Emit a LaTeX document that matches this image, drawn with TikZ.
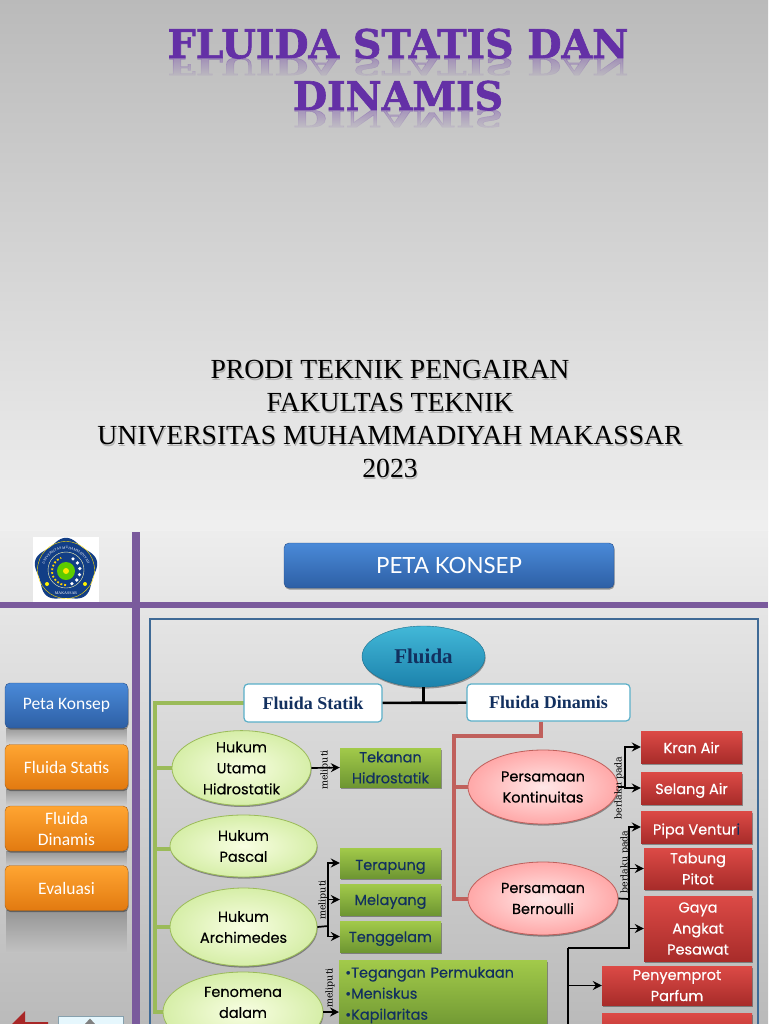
\documentclass[tikz,border=0pt]{standalone}
\usepackage{fontspec}
\setmainfont{Liberation Serif}
\newfontfamily\titlefont[BoldFeatures={FakeBold=1.6}]{DejaVu Serif}
\newfontfamily\mapfont[FakeBold=0.35]{Poppins}
\newfontfamily\menufont{Carlito}
\newfontfamily\headfont{Lato}
\usetikzlibrary{positioning,arrows.meta}
\usetikzlibrary{shapes.geometric,shadows,fadings,decorations.text}

\definecolor{barpurple}{HTML}{7A5A9C}
\definecolor{framesteel}{HTML}{3F6A96}
\definecolor{navytext}{HTML}{12305F}
\definecolor{linegreen}{HTML}{9BBB59}
\definecolor{linered}{HTML}{C0605C}
\definecolor{logoblue}{HTML}{123E86}
\definecolor{titlepurple}{HTML}{6430A6}

\tikzset{
  softshadow/.style={drop shadow={shadow xshift=.6pt,shadow yshift=-1.6pt,fill=black,opacity=.35}},
  titletext/.style={font=\titlefont\bfseries\fontsize{39.5}{40}\selectfont,text=titlepurple},
  subtext/.style={font=\fontsize{27.6}{33}\selectfont,align=center},
  menubtn/.style={rounded corners=5pt,softshadow,minimum width=123pt,minimum height=45pt,inner sep=0pt,
    text=white,align=center,font=\menufont\fontsize{17.5}{21}\selectfont},
  bluebtn/.style={menubtn,top color={rgb,255:red,74;green,138;blue,216},bottom color={rgb,255:red,45;green,95;blue,165},
    draw={rgb,255:red,40;green,80;blue,140},thin},
  orangebtn/.style={menubtn,top color={rgb,255:red,255;green,165;blue,50},bottom color={rgb,255:red,226;green,122;blue,16},
    draw={rgb,255:red,170;green,95;blue,20},thin},
  greenbub/.style={ellipse,draw=linegreen,thick,inner color={rgb,255:red,248;green,254;blue,226},
    outer color={rgb,255:red,214;green,238;blue,168},
    softshadow,align=center,inner sep=0pt,text=black,font=\mapfont\fontsize{14.5}{21}\selectfont},
  pinkbub/.style={ellipse,draw=linered,thick,inner color={rgb,255:red,255;green,232;blue,232},
    outer color={rgb,255:red,255;green,168;blue,168},
    softshadow,align=center,inner sep=0pt,text=black,font=\mapfont\fontsize{14.5}{21}\selectfont},
  greenbox/.style={top color={rgb,255:red,162;green,202;blue,74},bottom color={rgb,255:red,110;green,150;blue,50},softshadow,
    align=center,inner sep=0pt,text=navytext,font=\mapfont\fontsize{14.5}{21}\selectfont},
  redbox/.style={top color={rgb,255:red,220;green,74;blue,70},bottom color={rgb,255:red,168;green,44;blue,42},softshadow,
    align=center,inner sep=0pt,text=white,font=\mapfont\fontsize{14.5}{21}\selectfont},
  whitebox/.style={rounded corners=4pt,draw={rgb,255:red,90;green,175;blue,200},very thick,fill=white,inner sep=0pt,
    text=navytext,font=\bfseries\fontsize{18}{20}\selectfont},
  onerow/.style={text height=#1,text depth=0pt},
  link/.style={black,line width=1.7pt},
  arrowlink/.style={link,-{Stealth[length=9pt,width=9pt,inset=3pt]}},
  thicklink/.style={black,line width=2.6pt},
  greenlink/.style={linegreen,line width=3.4pt},
  redlink/.style={linered,line width=3.4pt},
  linklabel/.style={rotate=90,inner sep=0pt,font=\titlefont\fontsize{9.5}{11}\selectfont},
}

\newcommand{\mirrortitle}[3]{%
  \begin{scope}[shift={(#1,#2)},yscale=-.6]
    \node[titletext,anchor=base,transform shape,opacity=.32] at (0,0) {#3};
  \end{scope}}

\begin{document}
\begin{tikzpicture}[x=1pt,y=-1pt]
  \clip (0,0) rectangle (768,1024);

  % slide backgrounds
  \shade[top color=black!27,bottom color=black!6] (0,0) rectangle (768,531);
  \shade[top color=black!7,bottom color=black!27] (0,531) rectangle (768,1024);

  % title with its reflection
  \mirrortitle{398}{58}{FLUIDA STATIS DAN}
  \fill[black!24,path fading=north] (150,58) rectangle (650,80);
  \mirrortitle{398}{110}{DINAMIS}
  \fill[black!22,path fading=north] (280,110) rectangle (520,132);
  \node[titletext,anchor=base] (title1) at (398,58) {FLUIDA STATIS DAN};
  \node[titletext,anchor=base] (title2) at (398,110) {DINAMIS};

  % institution lines, shadow first
  \node[subtext,text=black,opacity=.22] at (391,420.5) {PRODI TEKNIK PENGAIRAN\\FAKULTAS TEKNIK\\UNIVERSITAS MUHAMMADIYAH MAKASSAR\\2023};
  \node[subtext] (prodi) at (390,418.5) {PRODI TEKNIK PENGAIRAN\\FAKULTAS TEKNIK\\UNIVERSITAS MUHAMMADIYAH MAKASSAR\\2023};

  % logo
  \fill[white] (33,537) rectangle (99,603);
  \fill[logoblue] plot[smooth cycle,domain=0:356,samples=90] ({66+(30+2.2*cos(5*\x+90))*cos(\x)},{570+(30+2.2*cos(5*\x+90))*sin(\x)});
  \draw[yellow!80!orange,thin] (66,570) circle[radius=28.5];
  \draw[white!70!yellow,thin] (66,570) circle[radius=18];
  \fill[green!55!yellow!80!black] (66,571) circle[radius=9];
  \fill[yellow!90!orange] (66,571) circle[radius=3];
  \foreach \a in {-60,-35,-10,15,40,65} \fill[white] ({66+14*cos(\a)},{571+14*sin(\a)}) circle[radius=1.8];
  \draw[yellow!70!orange,line width=1.8pt,dotted] (66,585) arc[start angle=90,end angle=250,radius=14];
  \fill[yellow] (47,584) circle[radius=2] (85,584) circle[radius=2];
  \path[postaction={decorate},decoration={text along path,text align=center,
    text={|\fontsize{3.6}{4}\selectfont\color{white}|UNIVERSITAS MUHAMMADIYAH}}]
    (43,572) arc[start angle=180,end angle=360,radius=23];
  \node[inner sep=0pt,text=white,font=\fontsize{4}{4}\selectfont] (makassar) at (66,593) {MAKASSAR};

  % purple bars
  \fill[barpurple] (132,532) rectangle (140,1024);
  \fill[barpurple] (0,602) rectangle (768,608);

  % header button
  \node[bluebtn,minimum width=330pt,font=\headfont\fontsize{22.3}{24}\selectfont] (header) at (449,565.5) {PETA KONSEP};

  % side menu, each with its reflection
  \foreach \ya/\yb in {728/745,789/806,851/866,910/952}
    \fill[black!50,opacity=.7,path fading=south] (6,\ya) rectangle (127,\yb);
  \node[bluebtn] (menu1) at (66.5,705.5) {Peta Konsep};
  \node[orangebtn] (menu2) at (66.5,767) {Fluida Statis};
  \node[orangebtn] (menu3) at (66.5,828.5) {Fluida\\Dinamis};
  \node[orangebtn] (menu4) at (66.5,888) {Evaluasi};

  % back arrow and home button
  \fill[red!60!black!85] (48,1022) -- (25,1022) -- (25,1011) -- (12,1024) -- (48,1024) -- cycle;
  \draw[cyan!40!black!60,fill=cyan!10] (58,1016) rectangle (123,1030);
  \fill[black!50] (90,1018.5) -- (85,1024) -- (95,1024) -- cycle;

  % map frame
  \draw[framesteel,line width=1.2pt] (150,619) rectangle (758,1040);

  % top of the map
  \node[ellipse,minimum width=123pt,minimum height=61pt,inner sep=0pt,top color={rgb,255:red,66;green,184;blue,216},
    bottom color={rgb,255:red,28;green,130;blue,172},draw={rgb,255:red,30;green,110;blue,140},
    softshadow,text=navytext,font=\bfseries\fontsize{21}{24}\selectfont] (fluida) at (423.5,656.5) {Fluida};
  \coordinate (split) at (423.5,702.5);
  \coordinate (greentop) at (155,703);
  \coordinate (greenend) at (155,1012);
  \coordinate (redturn) at (541,736);
  \coordinate (redtop) at (454,736);

  % static side
  \draw[greenlink] (244,703) -- (greentop) -- (greenend) -- (170,1012);
  \draw[greenlink] (greentop |- 0,768) -- (175,768);
  \draw[greenlink] (greentop |- 0,849) -- (175,849);
  \draw[greenlink] (greentop |- 0,927) -- (175,927);
  \node[whitebox,minimum width=138pt,minimum height=38pt] (statik) at (313,703) {Fluida Statik};
  \node[whitebox,minimum width=163pt,minimum height=37pt] (dinamis) at (548.5,702.5) {Fluida Dinamis};
  \draw[thicklink] (statik) -- (dinamis);
  \draw[thicklink] (fluida) -- (split);

  \node[greenbub,minimum width=139pt,minimum height=74pt] (utama) at (241.5,768) {Hukum\\Utama\\Hidrostatik};
  \node[greenbub,minimum width=147pt,minimum height=62pt] (pascal) at (243.5,846) {Hukum\\Pascal};
  \node[greenbub,minimum width=147pt,minimum height=78pt] (archi) at (243.5,927) {Hukum\\Archimedes};
  \node[greenbub,minimum width=160pt,minimum height=80pt] (fenomena) at (243,1012) {Fenomena\\dalam\\[-8pt]\strut};

  \node[greenbox,minimum width=101pt,minimum height=39pt] (tekanan) at (390.5,767.5) {Tekanan\\Hidrostatik};
  \node[greenbox,onerow=14pt,minimum width=101pt,minimum height=30pt] (terapung) at (390.5,863) {Terapung};
  \node[greenbox,onerow=11pt,minimum width=101pt,minimum height=31pt] (melayang) at (390.5,899.5) {Melayang};
  \node[greenbox,onerow=11pt,minimum width=101pt,minimum height=31pt] (tenggelam) at (390.5,936.5) {Tenggelam};
  \node[greenbox,minimum width=208pt,minimum height=70pt,anchor=north west,align=left,text width=196pt] (gejala) at (339,960) {•Tegangan Permukaan\\•Meniskus\\•Kapilaritas};

  \coordinate (archsplit) at (328,926);
  \draw[arrowlink] (utama.east) -- (tekanan.west);
  \draw[link] (archi.east) -- (archsplit);
  \draw[arrowlink] (archsplit) |- (terapung.west);
  \draw[arrowlink] (archsplit) |- (melayang.west);
  \draw[arrowlink] (archsplit) |- (tenggelam.west);
  \draw[arrowlink] (fenomena.east) -- (gejala.west |- fenomena);
  \node[linklabel] (lab1) at (325,770) {meliputi};
  \node[linklabel] (lab2) at (323,900) {meliputi};
  \node[linklabel] (lab3) at (330,988) {meliputi};

  % dynamic side
  \draw[redlink] (dinamis.south -| redturn) -- (redturn) -- (redtop) |- (475,899);
  \draw[redlink] (redtop |- 0,787) -- (475,787);
  \node[pinkbub,minimum width=150pt,minimum height=74pt] (konti) at (543,787) {Persamaan\\Kontinuitas};
  \node[pinkbub,minimum width=150pt,minimum height=73pt] (bernoulli) at (543,898.5) {Persamaan\\Bernoulli};

  \node[redbox,onerow=12pt,minimum width=101pt,minimum height=32pt] (kran) at (691.5,747) {Kran Air};
  \node[redbox,onerow=12pt,minimum width=101pt,minimum height=32pt] (selang) at (691.5,788) {Selang Air};
  \node[redbox,onerow=15pt,minimum width=111pt,minimum height=32pt] (pipa) at (696.5,827) {Pipa Ventur{\color{navytext}i}};
  \node[redbox,minimum width=108pt,minimum height=41pt] (tabung) at (698,868.5) {Tabung\\Pitot};
  \node[redbox,minimum width=108pt,minimum height=65pt] (gaya) at (698,928.5) {Gaya\\Angkat\\Pesawat};
  \node[redbox,minimum width=150pt,minimum height=39pt] (parfum) at (677,985.5) {Penyemprot\\Parfum};
  \node[redbox,minimum width=150pt,minimum height=39pt] (last) at (677,1032.5) {};

  \coordinate (kontisplit) at (625,787);
  \coordinate (bernsplit) at (629,899);
  \coordinate (bernlow) at (629,948);
  \coordinate (bernleft) at (568,948);
  \draw[link] (konti.east) -- (kontisplit);
  \draw[arrowlink] (kontisplit) |- (kran.west);
  \draw[arrowlink] (kontisplit) |- (selang.west);
  \draw[link] (bernoulli.east) -- (bernsplit);
  \draw[arrowlink] (bernsplit) |- (pipa.west);
  \draw[arrowlink] (bernsplit) |- (tabung.west);
  \draw[arrowlink] (bernsplit) |- (gaya.west);
  \draw[link] (bernsplit) -- (bernlow) -- (bernleft);
  \draw[arrowlink] (bernleft) |- (parfum.west);
  \draw[arrowlink] (bernleft) |- (last.west);
  \node[linklabel] (lab4) at (619,788) {berlaku pada};
  \node[linklabel] (lab5) at (625,862) {berlaku pada};
\end{tikzpicture}
\end{document}
